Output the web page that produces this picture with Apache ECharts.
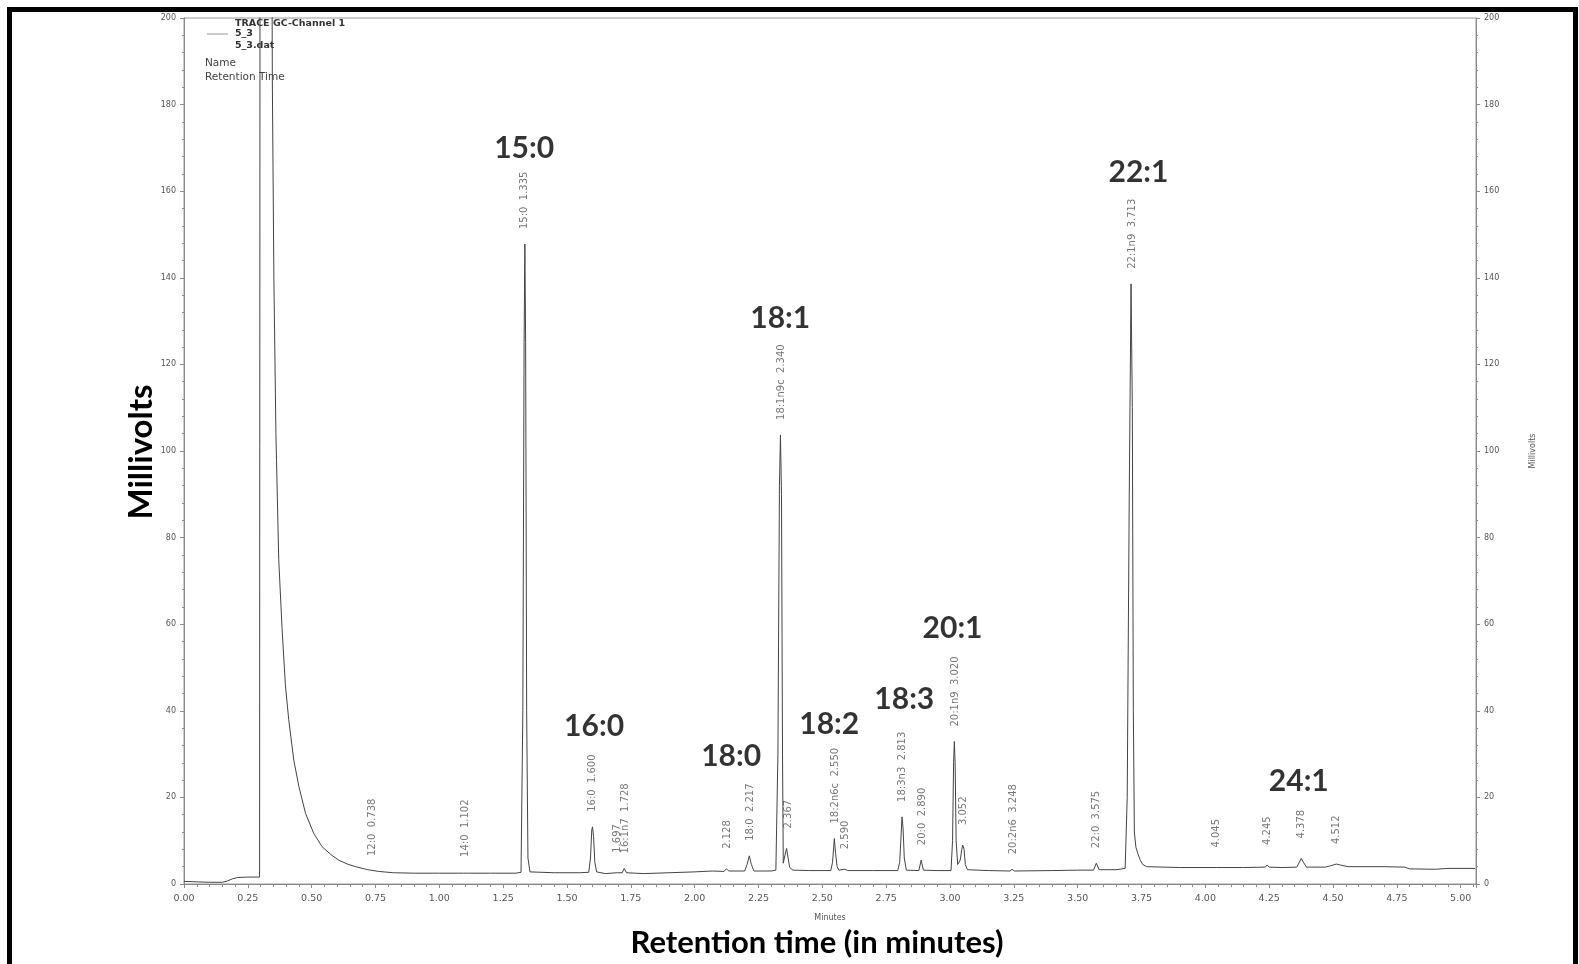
<!DOCTYPE html>
<html>
<head>
<meta charset="utf-8">
<title>TRACE GC-Channel 1</title>
<script src="https://cdn.jsdelivr.net/npm/echarts@6/dist/echarts.min.js"></script>
<style>
	html, body { margin: 0; padding: 0; background: #fff; }
	#chart { width: 1579px; height: 964px; }
</style>
</head>
<body>
<div id="chart"></div>
<script>
	'use strict';

	// chromatogram trace (minutes / millivolts)
	var traceTime = [
		0.000, 0.050, 0.100, 0.150, 0.170, 0.190, 0.210, 0.250, 0.296, 0.298,
		0.342, 0.346, 0.352, 0.360, 0.371, 0.384, 0.397, 0.410, 0.430, 0.450,
		0.476, 0.508, 0.541, 0.575, 0.606, 0.640, 0.672, 0.720, 0.763, 0.820,
		0.900, 1.000, 1.095, 1.102, 1.110, 1.200, 1.300, 1.320, 1.327, 1.332,
		1.335, 1.338, 1.342, 1.347, 1.355, 1.450, 1.550, 1.585, 1.592, 1.597,
		1.600, 1.604, 1.609, 1.616, 1.650, 1.697, 1.716, 1.724, 1.733, 1.800,
		1.900, 2.000, 2.070, 2.115, 2.124, 2.134, 2.196, 2.205, 2.214, 2.222,
		2.232, 2.300, 2.318, 2.326, 2.332, 2.336, 2.340, 2.344, 2.347, 2.353,
		2.360, 2.366, 2.372, 2.385, 2.450, 2.533, 2.540, 2.547, 2.552, 2.558,
		2.565, 2.587, 2.600, 2.700, 2.795, 2.803, 2.809, 2.812, 2.816, 2.821,
		2.829, 2.878, 2.887, 2.896, 2.950, 3.004, 3.010, 3.014, 3.017, 3.020,
		3.024, 3.030, 3.040, 3.046, 3.050, 3.055, 3.060, 3.068, 3.150, 3.235,
		3.243, 3.252, 3.400, 3.500, 3.562, 3.573, 3.584, 3.650, 3.686, 3.694,
		3.702, 3.709, 3.714, 3.718, 3.722, 3.728, 3.736, 3.745, 3.755, 3.770,
		3.900, 4.045, 4.150, 4.235, 4.242, 4.250, 4.300, 4.358, 4.368, 4.376,
		4.384, 4.396, 4.470, 4.490, 4.513, 4.535, 4.560, 4.700, 4.780, 4.800,
		4.900, 4.950, 5.056
	];
	var traceMv = [
		0.6, 0.5, 0.4, 0.4, 0.7, 1.2, 1.5, 1.6, 1.6, 260,
		260, 185, 140, 104, 75, 59, 46, 38, 28.6, 22.5,
		16.3, 11.7, 8.6, 6.8, 5.5, 4.6, 4.0, 3.3, 2.9, 2.6,
		2.5, 2.5, 2.5, 2.8, 2.5, 2.5, 2.5, 2.7, 40, 125,
		147.8, 125, 40, 6, 2.8, 2.6, 2.6, 2.7, 6.0, 12.5,
		13.2, 11.0, 5.0, 2.8, 2.4, 2.6, 2.6, 3.6, 2.6, 2.4,
		2.6, 2.8, 3.0, 2.9, 3.5, 3.0, 3.0, 4.5, 6.5, 4.5,
		3.0, 3.0, 3.2, 30, 92, 103.7, 90, 30, 4.8, 6.5,
		8.2, 6.0, 3.8, 3.2, 3.1, 3.1, 5.0, 10.5, 7.0, 4.0,
		3.2, 3.4, 3.1, 3.1, 3.1, 5.0, 12.0, 15.5, 13.0, 6.0,
		3.2, 3.1, 5.5, 3.2, 3.1, 3.1, 10.0, 28.0, 32.9, 28.0,
		10.0, 4.5, 5.5, 8.0, 9.0, 8.0, 4.5, 3.3, 3.1, 3.0,
		3.4, 3.0, 3.1, 3.2, 3.2, 4.8, 3.3, 3.3, 3.6, 20,
		90, 138.6, 110, 40, 12, 8.5, 7.0, 5.5, 4.5, 4.0,
		3.8, 3.8, 3.8, 3.9, 4.4, 3.9, 3.8, 3.9, 5.0, 5.9,
		5.0, 3.9, 3.9, 4.2, 4.6, 4.3, 4.0, 4.0, 3.9, 3.5,
		3.4, 3.6, 3.6
	];

	// integrated peaks: name, retention time, height
	var peakNames = ['12:0', '14:0', '15:0', '16:0', '', '16:1n7', '', '18:0', '18:1n9c', '',
		'18:2n6c', '', '18:3n3', '20:0', '20:1n9', '', '20:2n6', '22:0', '22:1n9', '', '', '', ''];
	var peakTimes = [0.738, 1.102, 1.335, 1.600, 1.697, 1.728, 2.128, 2.217, 2.340, 2.367,
		2.550, 2.590, 2.813, 2.890, 3.020, 3.052, 3.248, 3.575, 3.713, 4.045, 4.245, 4.378, 4.512];
	var peakHeights = [3.0, 2.8, 147.8, 13.2, 2.6, 3.6, 3.5, 6.5, 103.7, 8.2,
		10.5, 3.4, 15.5, 5.5, 32.9, 9.0, 3.4, 4.8, 138.6, 3.8, 4.4, 5.9, 4.6];

	// fatty acid annotations added on the figure
	var acidNames = ['15:0', '16:0', '18:0', '18:1', '18:2', '18:3', '20:1', '22:1', '24:1'];
	var acidTimes = [1.332, 1.606, 2.143, 2.335, 2.527, 2.821, 3.010, 3.738, 4.366];
	var acidMv = [170, 36.3, 29.6, 130.7, 36.9, 42.7, 59.1, 164.4, 23.7];

	var xTickLabels = ['0.00', '0.25', '0.50', '0.75', '1.00', '1.25', '1.50', '1.75', '2.00', '2.25', '2.50',
		'2.75', '3.00', '3.25', '3.50', '3.75', '4.00', '4.25', '4.50', '4.75', '5.00'];

	var traceData = traceTime.map(function(t, i) {
		return [t, traceMv[i]];
	});

	var peakData = peakTimes.map(function(t, i) {
		return {
			value: [t, peakHeights[i]],
			name: peakNames[i],
			label: { distance: peakNames[i] ? 15 : 20 }
		};
	});

	var acidData = acidTimes.map(function(t, i) {
		return { value: [t, acidMv[i]], name: acidNames[i] };
	});

	var tickColor = '#8a8a8a';
	var textColor = '#555';

	var yAxisBase = {
		type: 'value',
		min: 0,
		max: 200,
		interval: 20,
		axisLine: { show: true, lineStyle: { color: tickColor, width: 1 } },
		axisTick: { show: true, length: 4, lineStyle: { color: tickColor } },
		minorTick: { show: true, splitNumber: 5, length: 2, lineStyle: { color: tickColor } },
		splitLine: { show: false },
		axisLabel: { color: textColor, fontFamily: 'DejaVu Sans', fontSize: 8, margin: 8 }
	};

	var option = {
		animation: false,
		backgroundColor: '#fff',
		grid: {
			left: 184,
			right: 103,
			top: 18,
			bottom: 80,
			show: true,
			borderColor: '#999',
			borderWidth: 1
		},
		xAxis: {
			type: 'value',
			min: 0,
			max: 5.06,
			interval: 0.25,
			name: 'Minutes',
			nameLocation: 'middle',
			nameGap: 30,
			nameTextStyle: { color: textColor, fontFamily: 'DejaVu Sans', fontSize: 8 },
			axisLine: { show: true, onZero: false, lineStyle: { color: tickColor, width: 1 } },
			axisTick: { show: true, length: 4, lineStyle: { color: tickColor } },
			minorTick: { show: true, splitNumber: 5, length: 3, lineStyle: { color: tickColor } },
			splitLine: { show: false },
			axisLabel: {
				color: textColor,
				fontFamily: 'DejaVu Sans',
				fontSize: 9.5,
				margin: 10,
				showMaxLabel: false,
				formatter: function(v) {
					var idx = Math.round(v / 0.25);
					return Math.abs(idx * 0.25 - v) < 1e-6 && xTickLabels[idx] ? xTickLabels[idx] : '';
				}
			}
		},
		yAxis: [
			Object.assign({}, yAxisBase, { position: 'left' }),
			Object.assign({}, yAxisBase, {
				position: 'right',
				name: 'Millivolts',
				nameLocation: 'middle',
				nameGap: 53,
				nameRotate: 90,
				nameTextStyle: { color: textColor, fontFamily: 'DejaVu Sans', fontSize: 8 }
			})
		],
		series: [{
			name: '5_3',
			type: 'line',
			data: traceData,
			showSymbol: false,
			symbol: 'none',
			clip: true,
			lineStyle: { color: '#444', width: 1 },
			z: 3
		}, {
			// peak name + retention time, printed upright above each peak
			type: 'scatter',
			data: peakData,
			symbolSize: 0,
			silent: true,
			label: {
				show: true,
				position: 'top',
				rotate: 90,
				align: 'left',
				verticalAlign: 'middle',
				color: textColor,
				fontFamily: 'DejaVu Sans',
				fontSize: 10,
				formatter: function(p) {
					var t = p.value[0].toFixed(3);
					return p.name ? p.name + '  ' + t : t;
				}
			}
		}, {
			type: 'scatter',
			data: acidData,
			symbolSize: 0,
			silent: true,
			label: {
				show: true,
				position: 'inside',
				color: '#000',
				textBorderWidth: 0,
				fontFamily: 'Lato',
				fontWeight: 'bold',
				fontSize: 30,
				formatter: '{b}'
			}
		}],
		graphic: [{
			type: 'rect',
			shape: { x: 9.5, y: 9.5, width: 1566, height: 1000 },
			style: { fill: 'none', stroke: '#000', lineWidth: 5 },
			silent: true
		}, {
			type: 'text',
			x: 235, y: 24,
			style: { text: 'TRACE GC-Channel 1', fill: '#333', font: 'bold 9.5px "DejaVu Sans"', verticalAlign: 'middle' }
		}, {
			type: 'line',
			shape: { x1: 207, y1: 34, x2: 228, y2: 34 },
			style: { stroke: '#999', lineWidth: 1 }
		}, {
			type: 'text',
			x: 235, y: 34,
			style: { text: '5_3', fill: '#333', font: 'bold 9.5px "DejaVu Sans"', verticalAlign: 'middle' }
		}, {
			type: 'text',
			x: 235, y: 46,
			style: { text: '5_3.dat', fill: '#333', font: 'bold 9.5px "DejaVu Sans"', verticalAlign: 'middle' }
		}, {
			type: 'text',
			x: 205, y: 63,
			style: { text: 'Name', fill: '#444', font: '10.5px "DejaVu Sans"', verticalAlign: 'middle' }
		}, {
			type: 'text',
			x: 205, y: 77,
			style: { text: 'Retention Time', fill: '#444', font: '10.5px "DejaVu Sans"', verticalAlign: 'middle' }
		}, {
			type: 'text',
			x: 141, y: 452,
			rotation: Math.PI / 2,
			style: { text: 'Millivolts', fill: '#000', font: 'bold 33px Lato', align: 'center', verticalAlign: 'middle' }
		}, {
			type: 'text',
			x: 817, y: 943,
			style: { text: 'Retention time (in minutes)', fill: '#000', font: 'bold 31px Lato', align: 'center', verticalAlign: 'middle' }
		}]
	};

	var myChart = echarts.init(document.getElementById('chart'));
	myChart.setOption(option);
</script>
</body>
</html>
